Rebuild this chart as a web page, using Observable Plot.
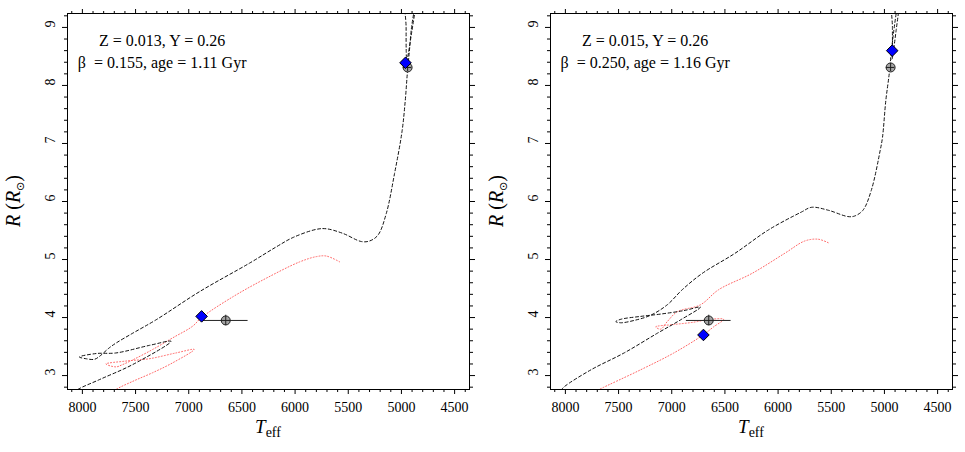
<!DOCTYPE html>
<html><head><meta charset="utf-8">
<script src="https://cdn.jsdelivr.net/npm/d3@7"></script>
<script src="https://cdn.jsdelivr.net/npm/@observablehq/plot@0.6"></script>
<style>
body{margin:0;background:#fff;}
#wrap{display:flex;width:965px;height:452px;background:#fff;}
#wrap svg{display:block;font-family:"Liberation Serif",serif !important;}
#wrap svg text{font-family:"Liberation Serif",serif !important;}
#wrap svg tspan.sym{font-family:"DejaVu Sans",sans-serif !important;}
</style></head><body><div id="wrap"></div>
<script>
// ---- tick values ----
const xTicks = [8000, 7500, 7000, 6500, 6000, 5500, 5000, 4500];
const yTicks = [3, 4, 5, 6, 7, 8, 9];
const xMinor = d3.range(4400, 8101, 100).filter(v => v % 500 !== 0);
const yMinor = d3.range(2.8, 9.21, 0.2).map(v => +v.toFixed(1)).filter(v => Math.abs(v - Math.round(v)) > 1e-6);

// ---- observed stars (same in both panels) ----
const obsT = [6652, 4942];
const obsTerr = [210, 40];
const obsR = [3.95, 8.31];
const obsRerr = [0.09, 0.07];

// ---- left panel: Z = 0.013 ----
const leftBlackT = [8080, 8043, 7840, 7527, 7167, 7371, 7684, 7871, 8028, 7965, 7887, 7840, 7746, 7684, 7527, 7308, 6895, 6426, 6175, 6019, 5800, 5706, 5550, 5377, 5299, 5221, 5143, 5065, 4995, 4964, 4945, 4925, 4905, 4880, 4860, 4955, 4956, 4955, 4950, 4935, 4905, 4870, 4840];
const leftBlackR = [2.70, 2.76, 2.93, 3.19, 3.59, 3.52, 3.39, 3.38, 3.32, 3.29, 3.28, 3.33, 3.48, 3.56, 3.73, 3.96, 4.45, 4.94, 5.22, 5.38, 5.52, 5.53, 5.45, 5.31, 5.32, 5.42, 5.79, 6.48, 7.20, 7.74, 8.20, 8.60, 9.00, 9.30, 9.60, 9.60, 9.00, 8.60, 8.42, 8.55, 8.90, 9.30, 9.60];
const leftRedT = [7720, 7684, 7527, 7339, 7151, 6949, 7120, 7371, 7590, 7778, 7684, 7621, 7527, 7339, 7151, 6964, 6880, 6583, 6269, 5956, 5800, 5706, 5581];
const leftRedR = [2.70, 2.76, 2.90, 3.05, 3.22, 3.45, 3.39, 3.29, 3.25, 3.20, 3.15, 3.19, 3.27, 3.45, 3.65, 3.85, 4.00, 4.36, 4.68, 4.96, 5.05, 5.06, 4.96];
const leftModelT = [6879, 4962];
const leftModelR = [4.02, 8.39];
const leftText = ["Z = 0.013, Y = 0.26", "β\u00a0 = 0.155, age = 1.11 Gyr"];

// ---- right panel: Z = 0.015 ----
const rightBlackT = [8040, 8009, 7759, 7448, 7135, 6917, 6730, 6886, 7104, 7292, 7479, 7526, 7479, 7354, 7198, 7042, 6901, 6714, 6403, 6091, 5779, 5685, 5529, 5342, 5280, 5202, 5124, 5040, 5018, 4987, 4955, 4940, 4915, 4885, 4860, 4924, 4925, 4925, 4928, 4915, 4890, 4865, 4845];
const rightBlackR = [2.75, 2.81, 3.10, 3.39, 3.73, 3.96, 4.18, 4.12, 4.06, 4.02, 3.97, 3.93, 3.91, 3.95, 4.04, 4.22, 4.48, 4.76, 5.11, 5.51, 5.82, 5.90, 5.85, 5.74, 5.75, 5.85, 6.19, 6.88, 7.11, 7.74, 8.20, 8.49, 8.90, 9.30, 9.60, 9.60, 9.00, 8.60, 8.45, 8.60, 8.95, 9.30, 9.60];
const rightRedT = [7720, 7682, 7292, 6980, 6705, 6606, 6512, 6636, 6793, 6980, 7151, 7104, 7042, 6948, 6730, 6559, 6246, 5935, 5748, 5623, 5529];
const rightRedR = [2.72, 2.76, 3.10, 3.39, 3.70, 3.84, 3.97, 3.97, 3.92, 3.88, 3.84, 3.80, 3.93, 4.10, 4.22, 4.48, 4.76, 5.11, 5.32, 5.35, 5.29];
const rightModelT = [6702, 4927];
const rightModelR = [3.70, 8.60];
const rightText = ["Z = 0.015, Y = 0.26", "β\u00a0 = 0.250, age = 1.16 Gyr"];

const zip = (T, R) => T.map((t, i) => ({T: t, R: R[i]}));
const FONT = "Liberation Serif, serif";

function panel(p, mLeft, width) {
  const mRight = 13, mTop = 13, mBottom = 63, H = 452;
  const black = zip(p.blackT, p.blackR);
  const red = zip(p.redT, p.redR);
  const obs = zip(obsT, obsR).map((d, i) => ({...d, eT: obsTerr[i], eR: obsRerr[i]}));
  const mod = zip(p.modT, p.modR);
  const blank = () => "";
  const svg = Plot.plot({
    width, height: H,
    marginLeft: mLeft, marginRight: mRight, marginTop: mTop, marginBottom: mBottom,
    x: {domain: [8140, 4360], axis: null},
    y: {domain: [2.76, 9.24], axis: null},
    style: {fontFamily: FONT, fontSize: "14px", background: "white", color: "black", overflow: "visible"},
    marks: [
      Plot.line(red, {x: "T", y: "R", stroke: "#ff6666", strokeWidth: 1, strokeDasharray: "1,2", curve: "catmull-rom", clip: true}),
      Plot.line(black, {x: "T", y: "R", stroke: "#111", strokeWidth: 1, strokeDasharray: "3,2.5", curve: "catmull-rom", clip: true}),
      Plot.dot(obs, {x: "T", y: "R", r: 4.5, fill: "#a3a3a3", stroke: "#222", strokeWidth: 1}),
      Plot.ruleY(obs, {y: "R", x1: d => d.T - d.eT, x2: d => d.T + d.eT, stroke: "#222", strokeWidth: 1}),
      Plot.ruleX(obs, {x: "T", y1: d => d.R - d.eR, y2: d => d.R + d.eR, stroke: "#222", strokeWidth: 1}),
      Plot.dot(mod, {x: "T", y: "R", symbol: "diamond2", r: 5.2, fill: "#0000ff", stroke: "black", strokeWidth: 1}),
      Plot.frame({stroke: "black", strokeWidth: 1}),
      Plot.axisX(xTicks, {anchor: "bottom", tickSize: 5, tickPadding: 8, fontSize: 14, tickFormat: d => String(d), label: null}),
      Plot.axisX(xMinor, {anchor: "bottom", tickSize: 3, tickFormat: blank, label: null}),
      Plot.axisX(xTicks, {anchor: "top", tickSize: 5, tickFormat: blank, label: null}),
      Plot.axisX(xMinor, {anchor: "top", tickSize: 3, tickFormat: blank, label: null}),
      Plot.axisY(yTicks, {anchor: "left", tickSize: 5, tickFormat: blank, label: null}),
      Plot.axisY(yMinor, {anchor: "left", tickSize: 3, tickFormat: blank, label: null}),
      Plot.axisY(yTicks, {anchor: "right", tickSize: 5, tickFormat: blank, label: null}),
      Plot.axisY(yMinor, {anchor: "right", tickSize: 3, tickFormat: blank, label: null}),
      Plot.text(yTicks, {y: d => d, text: d => String(d), frameAnchor: "left", dx: -17, rotate: -90, fontSize: 14, fill: "black"}),
      Plot.text([p.text[0]], {x: () => 7250, y: () => 8.76, text: d => d, fontSize: 16, fill: "black"}),
      Plot.text([p.text[1]], {x: () => 7250, y: () => 8.39, text: d => d, fontSize: 16, fill: "black"})
    ]
  });
  const s = d3.select(svg);
  const cx = mLeft + (width - mLeft - mRight) / 2;
  const xl = s.append("text").attr("x", cx).attr("y", 433).attr("text-anchor", "middle").attr("fill", "black");
  xl.append("tspan").attr("font-style", "italic").attr("font-size", 19).text("T");
  xl.append("tspan").attr("font-size", 14).attr("dy", 4).text("eff");
  const yl = s.append("text").attr("transform", `translate(${mLeft - 47},${(mTop + H - mBottom) / 2}) rotate(-90)`)
    .attr("text-anchor", "middle").attr("font-size", 20).attr("fill", "black");
  yl.append("tspan").attr("font-style", "italic").text("R");
  yl.append("tspan").text(" (");
  yl.append("tspan").attr("font-style", "italic").text("R");
  yl.append("tspan").attr("class", "sym").attr("font-size", 11).attr("dy", 4).text("\u2299");
  yl.append("tspan").attr("dy", -4).text(")");
  return svg;
}

const wrap = document.getElementById("wrap");
wrap.appendChild(panel({blackT: leftBlackT, blackR: leftBlackR, redT: leftRedT, redR: leftRedR, modT: leftModelT, modR: leftModelR, text: leftText}, 67, 482));
wrap.appendChild(panel({blackT: rightBlackT, blackR: rightBlackR, redT: rightRedT, redR: rightRedR, modT: rightModelT, modR: rightModelR, text: rightText}, 68, 483));
</script>
</body></html>
